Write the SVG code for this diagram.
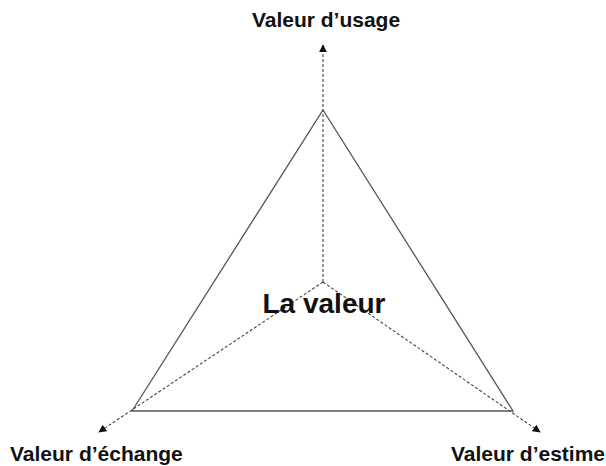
<svg xmlns="http://www.w3.org/2000/svg" width="606" height="466" viewBox="0 0 606 466">
<style>
.lbl{font-family:"Liberation Sans",Arial,sans-serif;font-weight:bold;font-size:21px;fill:#111}
.dash{stroke:#444;stroke-width:1.1;stroke-dasharray:3,2;fill:none}
.tri{stroke:#555;stroke-width:1.3;fill:none}
</style>
<defs>
<marker id="ah" viewBox="0 0 10 10" refX="9" refY="5" markerWidth="8" markerHeight="8" markerUnits="userSpaceOnUse" orient="auto">
<path d="M0,0 L10,5 L0,10 z" fill="#111"/>
</marker>
</defs>
<rect width="606" height="466" fill="#fff"/>
<g id="connectors">
<line class="dash" x1="323" y1="282" x2="323" y2="45" marker-end="url(#ah)"/>
<line class="dash" x1="323" y1="282" x2="99" y2="432" marker-end="url(#ah)"/>
<line class="dash" x1="323" y1="282" x2="540" y2="432" marker-end="url(#ah)"/>
</g>
<g id="triangle">
<polygon class="tri" points="323,110 513,411 132,411"/>
</g>
<g id="center">
<text x="324" y="313" text-anchor="middle" font-family="Liberation Sans, Arial, sans-serif" font-weight="bold" font-size="28" fill="#111">La valeur</text>
</g>
<g id="usage">
<text class="lbl" x="326" y="27" text-anchor="middle">Valeur d’usage</text>
</g>
<g id="echange">
<text class="lbl" x="10" y="461">Valeur d’échange</text>
</g>
<g id="estime">
<text class="lbl" x="605" y="461" text-anchor="end">Valeur d’estime</text>
</g>
</svg>
